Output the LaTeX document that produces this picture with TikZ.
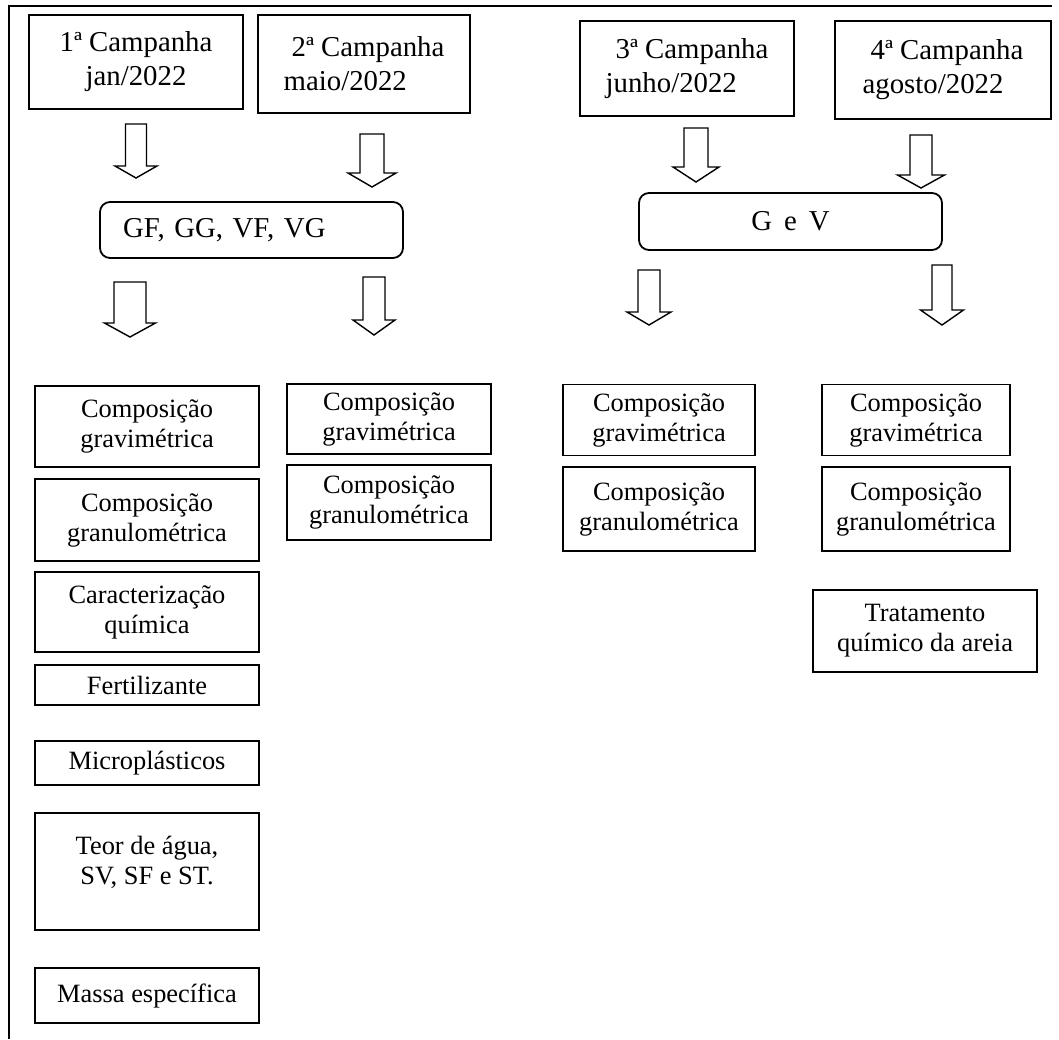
\documentclass[tikz,border=0pt]{standalone}
\usepackage{fontspec}
\setmainfont{Liberation Serif}

\tikzset{
  box/.style={draw, line width=0.9pt, inner sep=0pt, align=center, font=\fontsize{13.2}{15}\selectfont},
  headbox/.style={box, font=\fontsize{14.4}{17}\selectfont},
  groupbox/.style={box, rounded corners=5pt, font=\fontsize{14.4}{17}\selectfont},
  hollow/.style={draw, line width=0.7pt, fill=white}
}
% x, half shaft, half head, top, neck, tip
\newcommand{\downblock}[6]{%
  \draw[hollow] ({#1-#2},#4) -- ({#1+#2},#4) -- ({#1+#2},#5) -- ({#1+#3},#5)
    -- (#1,#6) -- ({#1-#3},#5) -- ({#1-#2},#5) -- cycle;}

\begin{document}
\begin{tikzpicture}[x=0.5pt, y=-0.5pt]
      \useasboundingbox (0,0) rectangle (1059,1039);
      \draw[line width=0.9pt] (1052,6) -- (9,6) -- (9,1039);

      \node[headbox, minimum width=107pt, minimum height=47pt] (camp1) at (136,62) {1ª Campanha\\jan/2022};
      \node[headbox, align=left, minimum width=106pt, minimum height=49pt] (camp2) at (364,64) {\hspace{4pt}2ª Campanha\\maio/2022};
      \node[headbox, align=left, minimum width=107pt, minimum height=47.5pt] (camp3) at (687,68.5) {\hspace{5pt}3ª Campanha\\junho/2022};
      \node[headbox, align=left, minimum width=108pt, minimum height=49pt] (camp4) at (943,70) {\hspace{4pt}4ª Campanha\\agosto/2022};

      \downblock{136}{10.5}{21}{124}{166}{178}
      \downblock{372}{12}{24}{134}{173}{187}
      \downblock{696}{12}{23}{128}{167}{182}
      \downblock{921}{11}{23.5}{135}{175}{188}

      \node[groupbox, align=left, inner xsep=11.5pt, text width=128.5pt, minimum height=28pt] (grupoA) at (251.5,230) {GF, GG, VF, VG};
      \node[groupbox, minimum width=151.5pt, minimum height=28.5pt] (grupoB) at (790.5,221.5) {G\,\ e\,\ V};

      \downblock{130}{16}{25.5}{282}{323}{337}
      \downblock{374}{11}{21}{277}{320}{335}
      \downblock{649}{11}{22}{270}{312}{325}
      \downblock{942}{10}{21.5}{265}{310}{325}

      \node[box, minimum width=112pt, minimum height=40.5pt] (grav1) at (147,426.5) {Composição\\gravimétrica};
      \node[box, minimum width=112pt, minimum height=41pt] (gran1) at (147,520) {Composição\\granulométrica};
      \node[box, minimum width=112pt, minimum height=40pt] (carac) at (147,612) {Caracterização\\química};
      \node[box, minimum width=112pt, minimum height=20pt] (fert) at (147,685) {Fertilizante};
      \node[box, minimum width=112pt, minimum height=22pt] (micro) at (147,763) {Microplásticos};
      \node[box, minimum width=112pt, minimum height=58.5pt, text depth=11pt] (teor) at (147,871.5) {Teor de água,\\SV, SF e ST.};
      \node[box, minimum width=112pt, minimum height=27.5pt] (massa) at (147,995.5) {Massa específica};

      \node[box, minimum width=102pt, minimum height=35pt] (grav2) at (389,419) {Composição\\gravimétrica};
      \node[box, minimum width=102pt, minimum height=37.5pt] (gran2) at (389,502.5) {Composição\\granulométrica};

      \node[box, minimum width=96pt, minimum height=35.5pt] (grav3) at (659,420) {Composição\\gravimétrica};
      \node[box, minimum width=96pt, minimum height=42pt] (gran3) at (659,509) {Composição\\granulométrica};

      \node[box, minimum width=94pt, minimum height=35.5pt] (grav4) at (916,420) {Composição\\gravimétrica};
      \node[box, minimum width=94pt, minimum height=42pt] (gran4) at (916,509) {Composição\\granulométrica};
      \node[box, minimum width=112pt, minimum height=41pt] (trat) at (925,631) {Tratamento\\químico da areia};
\end{tikzpicture}
\end{document}
